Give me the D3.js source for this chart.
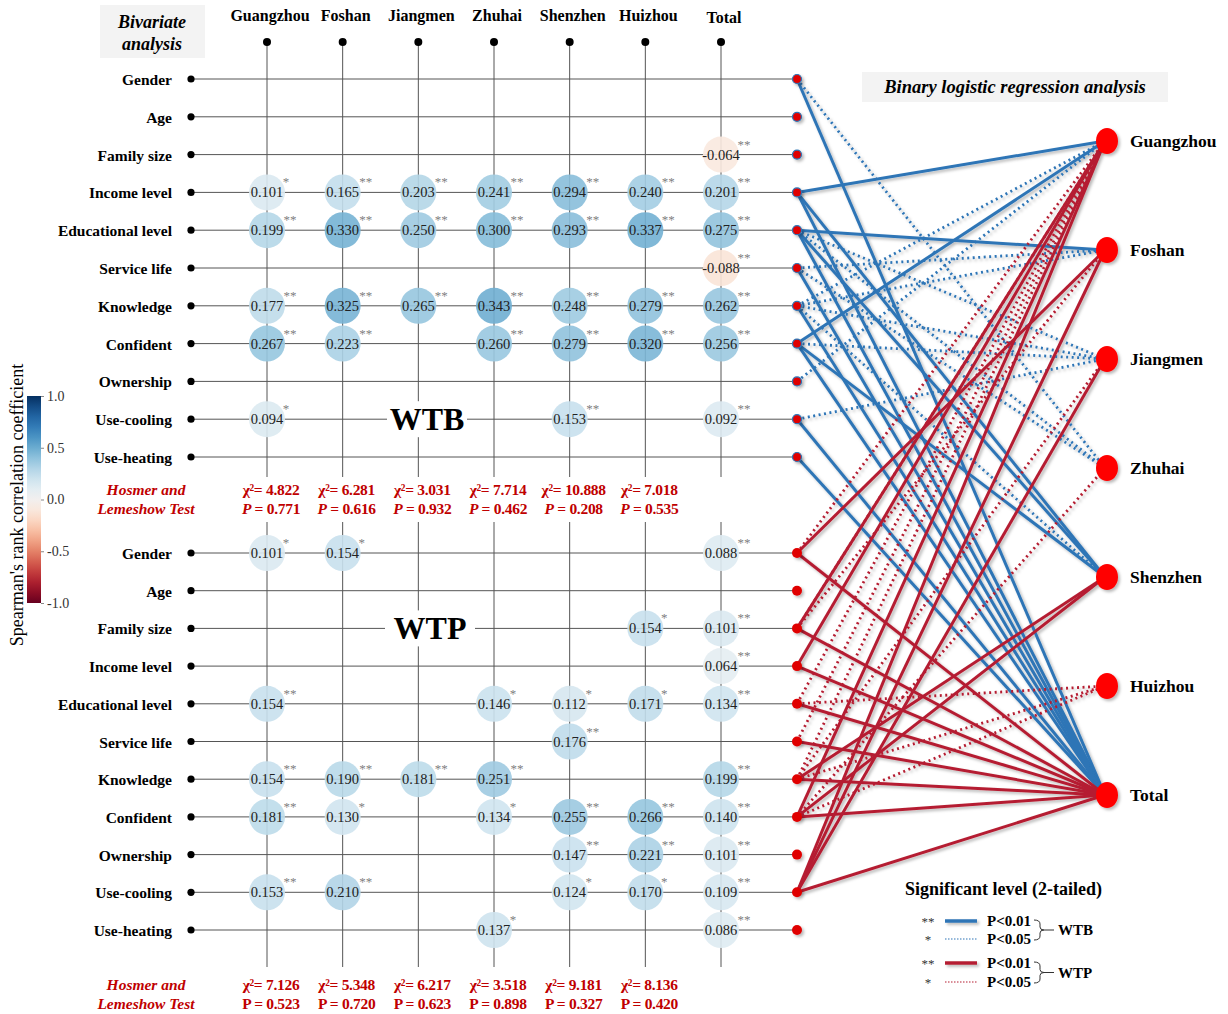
<!DOCTYPE html>
<html><head><meta charset="utf-8">
<script src="https://cdn.jsdelivr.net/npm/d3@7"></script>
<style>body{margin:0;background:#fff}svg{display:block}text{font-family:"Times New Roman","Liberation Serif",serif}</style>
</head><body>
<script>
const cities = ["Guangzhou","Foshan","Jiangmen","Zhuhai","Shenzhen","Huizhou","Total"];
const variables = ["Gender","Age","Family size","Income level","Educational level","Service life","Knowledge","Confident","Ownership","Use-cooling","Use-heating"];
// [variable, city, value, stars]
const wtbCorr = [
 ["Family size","Total",-0.064,2],
 ["Income level","Guangzhou",0.101,1],["Income level","Foshan",0.165,2],["Income level","Jiangmen",0.203,2],["Income level","Zhuhai",0.241,2],["Income level","Shenzhen",0.294,2],["Income level","Huizhou",0.240,2],["Income level","Total",0.201,2],
 ["Educational level","Guangzhou",0.199,2],["Educational level","Foshan",0.330,2],["Educational level","Jiangmen",0.250,2],["Educational level","Zhuhai",0.300,2],["Educational level","Shenzhen",0.293,2],["Educational level","Huizhou",0.337,2],["Educational level","Total",0.275,2],
 ["Service life","Total",-0.088,2],
 ["Knowledge","Guangzhou",0.177,2],["Knowledge","Foshan",0.325,2],["Knowledge","Jiangmen",0.265,2],["Knowledge","Zhuhai",0.343,2],["Knowledge","Shenzhen",0.248,2],["Knowledge","Huizhou",0.279,2],["Knowledge","Total",0.262,2],
 ["Confident","Guangzhou",0.267,2],["Confident","Foshan",0.223,2],["Confident","Zhuhai",0.260,2],["Confident","Shenzhen",0.279,2],["Confident","Huizhou",0.320,2],["Confident","Total",0.256,2],
 ["Use-cooling","Guangzhou",0.094,1],["Use-cooling","Shenzhen",0.153,2],["Use-cooling","Total",0.092,2]
];
const wtpCorr = [
 ["Gender","Guangzhou",0.101,1],["Gender","Foshan",0.154,1],["Gender","Total",0.088,2],
 ["Family size","Huizhou",0.154,1],["Family size","Total",0.101,2],
 ["Income level","Total",0.064,2],
 ["Educational level","Guangzhou",0.154,2],["Educational level","Zhuhai",0.146,1],["Educational level","Shenzhen",0.112,1],["Educational level","Huizhou",0.171,1],["Educational level","Total",0.134,2],
 ["Service life","Shenzhen",0.176,2],
 ["Knowledge","Guangzhou",0.154,2],["Knowledge","Foshan",0.190,2],["Knowledge","Jiangmen",0.181,2],["Knowledge","Zhuhai",0.251,2],["Knowledge","Total",0.199,2],
 ["Confident","Guangzhou",0.181,2],["Confident","Foshan",0.130,1],["Confident","Zhuhai",0.134,1],["Confident","Shenzhen",0.255,2],["Confident","Huizhou",0.266,2],["Confident","Total",0.140,2],
 ["Ownership","Shenzhen",0.147,2],["Ownership","Huizhou",0.221,2],["Ownership","Total",0.101,2],
 ["Use-cooling","Guangzhou",0.153,2],["Use-cooling","Foshan",0.210,2],["Use-cooling","Shenzhen",0.124,1],["Use-cooling","Huizhou",0.170,1],["Use-cooling","Total",0.109,2],
 ["Use-heating","Zhuhai",0.137,1],["Use-heating","Total",0.086,2]
];
const wtbChi = ["χ²= 4.822","χ²= 6.281","χ²= 3.031","χ²= 7.714","χ²= 10.888","χ²= 7.018"];
const wtbP = ["0.771","0.616","0.932","0.462","0.208","0.535"];
const wtpChi = ["χ²= 7.126","χ²= 5.348","χ²= 6.217","χ²= 3.518","χ²= 9.181","χ²= 8.136"];
const wtpP = ["0.523","0.720","0.623","0.898","0.327","0.420"];
// logistic regression links: [variable, city, level(2 = P<0.01, 1 = P<0.05)]
const wtbLinks = [
 ["Gender","Total",2],["Gender","Zhuhai",1],
 ["Income level","Guangzhou",2],["Income level","Shenzhen",2],["Income level","Total",2],
 ["Educational level","Foshan",2],["Educational level","Jiangmen",1],["Educational level","Zhuhai",1],["Educational level","Shenzhen",2],["Educational level","Total",2],
 ["Service life","Foshan",1],["Service life","Zhuhai",1],["Service life","Total",2],
 ["Knowledge","Guangzhou",1],["Knowledge","Foshan",1],["Knowledge","Jiangmen",1],["Knowledge","Shenzhen",1],["Knowledge","Total",2],
 ["Confident","Guangzhou",2],["Confident","Jiangmen",1],["Confident","Shenzhen",2],["Confident","Total",2],
 ["Ownership","Guangzhou",1],
 ["Use-cooling","Jiangmen",1],["Use-cooling","Total",2],
 ["Use-heating","Total",2]
];
const wtpLinks = [
 ["Gender","Guangzhou",1],["Gender","Foshan",2],["Gender","Total",2],
 ["Family size","Guangzhou",1],["Family size","Foshan",1],["Family size","Guangzhou",2],["Family size","Total",2],
 ["Income level","Guangzhou",2],["Income level","Total",2],
 ["Educational level","Guangzhou",1],["Educational level","Huizhou",1],["Educational level","Total",2],
 ["Service life","Guangzhou",1],["Service life","Total",2],
 ["Knowledge","Guangzhou",1],["Knowledge","Jiangmen",1],["Knowledge","Huizhou",1],["Knowledge","Shenzhen",2],["Knowledge","Total",2],
 ["Confident","Guangzhou",2],["Confident","Zhuhai",1],["Confident","Shenzhen",2],["Confident","Huizhou",1],["Confident","Total",2],
 ["Use-cooling","Guangzhou",2],["Use-cooling","Foshan",2],["Use-cooling","Jiangmen",2],["Use-cooling","Total",2]
];
const colorTicks = [1.0,0.5,0.0,-0.5,-1.0];

const W=1228,H=1014;
const svg=d3.select("body").append("svg").attr("width",W).attr("height",H);
const defs=svg.append("defs");
const sh=defs.append("filter").attr("id","sh").attr("filterUnits","userSpaceOnUse").attr("x",0).attr("y",0).attr("width",W).attr("height",H);
sh.append("feDropShadow").attr("dx",2).attr("dy",2).attr("stdDeviation",1.5).attr("flood-color","#000").attr("flood-opacity",0.28);

const x=d3.scalePoint().domain(cities).range([267,721]);
const yTop=d3.scalePoint().domain(variables).range([79,457]);
const yBot=d3.scalePoint().domain(variables).range([553,930]);
const yNode=d3.scalePoint().domain(cities).range([141,795]);
const color=d3.scaleSequential(d3.interpolateRdBu).domain([-0.7,0.7]);
const cbar=d3.scaleLinear().domain([-1,1]).range([603,396]);
const dotX=797, nodeX=1105, leftX=191;
const font='"Times New Roman","Liberation Serif",serif';
const fmt=v=>(v<0?"-":"")+d3.format(".3f")(Math.abs(v));

// header box
svg.append("rect").attr("x",100).attr("y",5).attr("width",105).attr("height",53).attr("fill","#f3f3f3");
svg.append("text").attr("x",152).attr("y",28).attr("text-anchor","middle").attr("font-size",18).attr("font-weight","bold").attr("font-style","italic").text("Bivariate");
svg.append("text").attr("x",152).attr("y",50).attr("text-anchor","middle").attr("font-size",18).attr("font-weight","bold").attr("font-style","italic").text("analysis");
svg.selectAll(".ch").data(cities).join("text").attr("x",d=>x(d)+3).attr("y",d=>d==="Total"?23:21).attr("text-anchor","middle").attr("font-size",16).attr("font-weight","bold").text(d=>d);

// vertical grid
const g=svg.append("g").attr("stroke","#555").attr("stroke-width",1);
cities.forEach(c=>{
  g.append("line").attr("x1",x(c)).attr("x2",x(c)).attr("y1",42).attr("y2",477);
  g.append("line").attr("x1",x(c)).attr("x2",x(c)).attr("y1",522).attr("y2",967);
});
svg.selectAll(".td").data(cities).join("circle").attr("cx",d=>x(d)).attr("cy",42).attr("r",4).attr("fill","#000");

// horizontal rows
[yTop,yBot].forEach(ys=>{
  variables.forEach(v=>{
    g.append("line").attr("x1",leftX).attr("x2",dotX).attr("y1",ys(v)).attr("y2",ys(v));
  });
  svg.selectAll(null).data(variables).join("circle").attr("cx",leftX).attr("cy",d=>ys(d)).attr("r",3.6).attr("fill","#000");
  svg.selectAll(null).data(variables).join("text").attr("x",172).attr("y",d=>ys(d)+6).attr("text-anchor","end").attr("font-size",15.5).attr("font-weight","bold").text(d=>d);
});

// WTB / WTP labels
[["WTB",427,yTop("Use-cooling"),80],["WTP",430,yBot("Family size"),90]].forEach(([t,cx,cy,w])=>{
  svg.append("rect").attr("x",cx-w/2).attr("y",cy-18).attr("width",w).attr("height",36).attr("fill","#fff");
  svg.append("text").attr("x",cx).attr("y",cy+11).attr("text-anchor","middle").attr("font-size",32).attr("font-weight","bold").text(t);
});

// correlation circles
function drawCorr(data,ys){
  const gg=svg.append("g");
  const c=gg.selectAll("g").data(data).join("g").attr("transform",d=>`translate(${x(d[1])},${ys(d[0])})`);
  c.append("circle").attr("r",18).attr("fill",d=>color(d[2])).attr("opacity",0.9);
  c.append("text").attr("y",5).attr("text-anchor","middle").attr("font-size",14.5).attr("fill","#222").text(d=>fmt(d[2]));
  c.append("text").attr("x",d=>d[3]===2?23:19).attr("y",-6).attr("text-anchor","middle").attr("font-size",13).attr("fill","#808080").text(d=>"*".repeat(d[3]));
}
drawCorr(wtbCorr,yTop);
drawCorr(wtpCorr,yBot);

// Hosmer text
function hosmer(chi,p,y0,pItalic){
  const red="#c00000";
  svg.append("rect").attr("x",90).attr("y",y0-18).attr("width",640).attr("height",44).attr("fill","#fff");
  svg.append("text").attr("x",146).attr("y",y0).attr("text-anchor","middle").attr("font-size",15.5).attr("font-weight","bold").attr("font-style","italic").attr("fill",red).text("Hosmer and");
  svg.append("text").attr("x",146).attr("y",y0+19).attr("text-anchor","middle").attr("font-size",15.5).attr("font-weight","bold").attr("font-style","italic").attr("fill",red).text("Lemeshow Test");
  chi.forEach((t,i)=>{
    svg.append("text").attr("x",x(cities[i])+4).attr("y",y0).attr("text-anchor","middle").attr("font-size",15.5).attr("font-weight","bold").attr("fill",red).attr("letter-spacing",-0.3).text(t);
    const tp=svg.append("text").attr("x",x(cities[i])+4).attr("y",y0+19).attr("text-anchor","middle").attr("font-size",15.5).attr("font-weight","bold").attr("fill",red).attr("letter-spacing",-0.3);
    tp.append("tspan").attr("font-style",pItalic?"italic":"normal").text("P");
    tp.append("tspan").text(" = "+p[i]);
  });
}
hosmer(wtbChi,wtbP,495,true);
hosmer(wtpChi,wtpP,990,false);

// colour bar
const grad=defs.append("linearGradient").attr("id","cb").attr("x1",0).attr("x2",0).attr("y1",0).attr("y2",1);
d3.range(0,1.0001,0.05).forEach(t=>grad.append("stop").attr("offset",t).attr("stop-color",d3.interpolateRdBu(1-t)));
svg.append("rect").attr("x",27).attr("y",cbar(1)).attr("width",14).attr("height",cbar(-1)-cbar(1)).attr("fill","url(#cb)");
const cb=svg.append("g").attr("transform","translate(41,0)").call(d3.axisRight(cbar).tickValues(colorTicks).tickFormat(d=>(d<0?"-":"")+d3.format(".1f")(Math.abs(d))).tickSize(3));
cb.select(".domain").remove();
cb.selectAll("text").attr("font-family",font).attr("font-size",14).attr("fill","#333");
cb.selectAll("line").attr("stroke","#888");
svg.append("text").attr("transform","translate(23,505) rotate(-90)").attr("text-anchor","middle").attr("font-size",18).text("Spearman's rank correlation coefficient");

// right panel header
svg.append("rect").attr("x",862).attr("y",72).attr("width",306).attr("height",30).attr("fill","#f3f3f3");
svg.append("text").attr("x",1015).attr("y",93).attr("text-anchor","middle").attr("font-size",18.5).attr("font-weight","bold").attr("font-style","italic").text("Binary logistic regression analysis");

// links
const lg=svg.append("g").attr("filter","url(#sh)").attr("fill","none");
function drawLinks(links,ys,col){
  lg.selectAll(null).data(links).join("line")
    .attr("x1",dotX).attr("y1",d=>ys(d[0])).attr("x2",nodeX).attr("y2",d=>yNode(d[1]))
    .attr("stroke",col).attr("stroke-width",d=>d[2]===2?3:2.8)
    .attr("stroke-dasharray",d=>d[2]===2?null:"2,3.5");
}
drawLinks(wtbLinks,yTop,"#2e75b6");
drawLinks(wtpLinks,yBot,"#b51f32");

// variable dots
const dg=svg.append("g").attr("filter","url(#sh)");
variables.forEach(v=>{
  dg.append("circle").attr("cx",dotX).attr("cy",yTop(v)).attr("r",4.5).attr("fill","#e00000").attr("stroke","#2e75b6").attr("stroke-width",1.2);
  dg.append("circle").attr("cx",dotX).attr("cy",yBot(v)).attr("r",5).attr("fill","#e00000");
});
// city nodes
dg.selectAll(null).data(cities).join("ellipse").attr("cx",nodeX+2).attr("cy",d=>yNode(d)).attr("rx",11).attr("ry",13).attr("fill","#ff0000");
svg.selectAll(null).data(cities).join("text").attr("x",1130).attr("y",d=>yNode(d)+6).attr("font-size",17.5).attr("font-weight","bold").text(d=>d);

// legend
svg.append("text").attr("x",905).attr("y",895).attr("font-size",18).attr("font-weight","bold").text("Significant level (2-tailed)");
const leg=[[921,"**","#2e75b6",2],[939,"*","#2e75b6",1],[963,"**","#b51f32",2],[982,"*","#b51f32",1]];
const lgg=svg.append("g").attr("filter","url(#sh)");
leg.forEach(([y,s,c,l])=>{
  svg.append("text").attr("x",928).attr("y",y+5).attr("text-anchor","middle").attr("font-size",13).attr("fill","#333").text(s);
  (l===2?lgg:svg).append("line").attr("x1",945).attr("x2",977).attr("y1",y).attr("y2",y).attr("stroke",c).attr("stroke-width",l===2?3.5:1.2).attr("stroke-dasharray",l===2?null:"1.5,1.5");
  svg.append("text").attr("x",987).attr("y",y+5).attr("font-size",15).attr("font-weight","bold").text(l===2?"P<0.01":"P<0.05");
});
[[921,939,"WTB"],[963,982,"WTP"]].forEach(([a,b,t])=>{
  const m=(a+b)/2;
  svg.append("path").attr("d",`M1034,${a-1} q6,0 6,4 V${m-3} q0,3 4,3 q-4,0 -4,3 V${b-3} q0,4 -6,4 M1044,${m} H1054`).attr("fill","none").attr("stroke","#333").attr("stroke-width",1);
  svg.append("text").attr("x",1058).attr("y",m+5).attr("font-size",15).attr("font-weight","bold").text(t);
});
</script>
</body></html>
